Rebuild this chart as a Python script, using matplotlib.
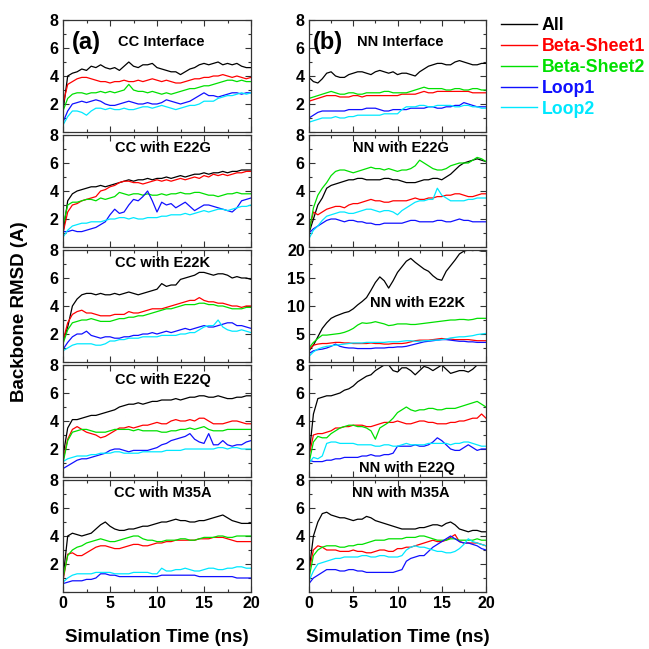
import numpy as np
import matplotlib
matplotlib.use("Agg")
import matplotlib.pyplot as plt
from matplotlib.lines import Line2D
from matplotlib.ticker import MultipleLocator

plt.rcParams['font.family'] = ['Liberation Sans', 'DejaVu Sans']
plt.rcParams['font.weight'] = 'bold'

time_ns = np.arange(41) * 0.5
series_names = ["All", "Beta-Sheet1", "Beta-Sheet2", "Loop1", "Loop2"]
series_colors = ["#000000", "#ff0000", "#00e000", "#1010ff", "#00e8ff"]

# ---- (a) CC panels ----
cc_interface = {
    "All": [1.5,4.0,4.2,4.3,4.5,4.4,4.7,4.6,4.8,4.6,4.5,4.6,4.4,4.7,5.0,4.7,4.6,4.8,4.8,4.9,4.6,4.5,4.4,4.3,4.3,4.1,4.3,4.5,4.6,4.8,4.9,4.8,4.9,5.0,4.8,4.9,4.8,4.9,4.7,4.6,4.6],
    "Beta-Sheet1": [2.0,3.4,3.6,3.8,3.9,3.9,3.8,3.7,3.6,3.6,3.5,3.6,3.6,3.7,3.6,3.6,3.7,3.6,3.7,3.8,3.7,3.6,3.7,3.6,3.5,3.5,3.6,3.7,3.8,3.8,3.9,3.9,4.0,4.0,4.1,4.0,3.9,4.0,3.9,3.8,3.9],
    "Beta-Sheet2": [1.5,2.4,2.7,2.8,2.8,2.7,2.8,2.8,2.9,2.8,2.9,2.8,2.9,3.0,3.4,3.0,2.9,2.9,2.8,2.9,2.8,2.7,2.8,2.7,2.8,2.9,3.0,3.1,3.1,3.2,3.3,3.3,3.4,3.5,3.6,3.7,3.7,3.6,3.7,3.6,3.6],
    "Loop1": [0.7,1.5,2.0,2.1,2.2,2.1,2.2,2.3,2.2,2.0,1.9,1.9,2.0,2.1,2.2,2.1,2.0,2.0,2.1,2.0,2.0,2.1,2.3,2.2,2.1,2.0,2.1,2.2,2.4,2.6,2.8,2.6,2.6,2.5,2.6,2.7,2.8,2.8,2.7,2.8,2.8],
    "Loop2": [0.5,1.1,1.5,1.5,1.4,1.2,1.5,1.7,1.7,1.6,1.7,1.6,1.6,1.7,1.6,1.6,1.7,1.8,1.8,1.7,1.8,1.9,1.8,1.7,1.6,1.7,1.8,1.9,1.9,2.0,2.2,2.2,2.2,2.4,2.5,2.6,2.6,2.7,2.8,2.7,2.8],
}
cc_e22g = {
    "All": [1.0,3.3,3.8,4.0,4.1,4.2,4.3,4.3,4.4,4.3,4.4,4.5,4.6,4.7,4.8,4.7,4.8,4.8,4.9,4.8,4.9,4.9,5.0,4.9,5.0,5.1,5.0,5.1,5.2,5.2,5.3,5.2,5.3,5.3,5.4,5.3,5.4,5.4,5.5,5.5,5.5],
    "Beta-Sheet1": [1.0,2.5,3.0,3.1,3.3,3.4,3.5,3.6,4.0,4.1,4.3,4.4,4.6,4.7,4.7,4.6,4.6,4.5,4.6,4.7,4.8,4.7,4.8,4.7,4.8,4.9,4.8,4.9,5.0,4.9,5.1,5.0,5.2,5.1,5.2,5.1,5.2,5.3,5.3,5.4,5.4],
    "Beta-Sheet2": [1.5,3.0,3.2,3.2,3.3,3.4,3.4,3.3,3.5,3.4,3.5,3.6,3.9,3.8,3.7,3.8,3.8,3.7,3.8,3.7,3.7,3.8,3.7,3.8,3.8,3.9,3.8,3.8,3.9,3.9,3.8,3.7,3.7,3.6,3.7,3.8,3.8,3.9,3.8,3.8,3.8],
    "Loop1": [1.1,1.1,1.2,1.1,1.1,1.2,1.3,1.4,1.6,1.8,2.3,2.7,2.4,2.5,3.0,3.4,3.3,3.6,4.0,3.3,2.5,3.2,3.0,3.1,2.8,3.0,3.2,2.9,2.6,2.8,3.0,3.0,2.9,2.8,2.7,2.6,2.5,2.8,3.3,3.4,3.5],
    "Loop2": [0.7,1.2,1.5,1.6,1.7,1.7,1.8,1.8,1.8,1.9,2.0,2.0,2.1,2.1,2.0,2.1,2.0,2.0,2.1,2.1,2.1,2.2,2.2,2.3,2.3,2.3,2.4,2.3,2.4,2.5,2.6,2.5,2.6,2.7,2.7,2.6,2.7,2.8,2.9,2.9,3.0],
}
cc_e22k = {
    "All": [1.5,2.5,4.0,4.5,4.8,4.9,4.9,4.8,4.9,4.8,4.8,4.9,4.8,4.9,5.0,4.9,4.8,4.9,5.0,5.1,5.2,5.6,5.4,5.5,5.5,5.9,6.0,6.1,6.2,6.4,6.4,6.3,6.2,6.3,6.3,6.2,6.0,6.1,6.0,6.0,5.9],
    "Beta-Sheet1": [1.5,2.8,3.4,3.6,3.7,3.5,3.5,3.4,3.3,3.3,3.3,3.4,3.4,3.4,3.6,3.5,3.5,3.6,3.7,3.8,3.8,3.8,3.9,4.0,4.1,4.2,4.3,4.4,4.4,4.6,4.4,4.3,4.3,4.2,4.2,4.1,4.0,4.0,3.9,4.0,4.0],
    "Beta-Sheet2": [1.3,2.3,2.8,2.9,3.0,3.0,3.1,3.0,2.9,2.9,2.9,3.0,3.1,3.1,3.2,3.2,3.3,3.3,3.4,3.5,3.6,3.7,3.8,3.8,3.9,4.0,4.1,4.1,4.1,4.2,4.2,4.1,4.1,4.0,4.0,3.9,3.8,3.8,3.8,3.9,3.9],
    "Loop1": [0.9,1.4,1.8,2.0,2.0,2.2,1.9,1.8,1.7,1.8,1.8,1.7,1.7,1.8,1.8,1.9,1.9,2.0,2.0,2.1,2.0,2.1,2.2,2.1,2.2,2.3,2.4,2.3,2.4,2.5,2.6,2.5,2.5,2.6,2.7,2.8,2.8,2.6,2.6,2.5,2.4],
    "Loop2": [0.8,1.0,1.2,1.3,1.3,1.3,1.3,1.2,1.2,1.3,1.5,1.5,1.6,1.6,1.7,1.7,1.7,1.8,1.8,1.8,1.8,1.9,1.9,1.9,1.9,2.0,2.0,2.1,2.1,2.3,2.5,2.6,2.6,3.0,2.5,2.3,2.2,2.2,2.3,2.2,2.1],
}
cc_e22q = {
    "All": [1.5,3.5,4.1,4.1,4.2,4.3,4.4,4.4,4.5,4.6,4.7,4.8,5.0,5.1,5.2,5.2,5.3,5.2,5.3,5.4,5.4,5.5,5.5,5.5,5.6,5.5,5.6,5.7,5.7,5.8,5.8,5.7,5.7,5.8,5.7,5.6,5.6,5.7,5.7,5.8,5.8],
    "Beta-Sheet1": [1.2,2.7,3.4,3.6,3.4,3.2,3.1,3.0,2.8,2.9,3.1,3.3,3.5,3.5,3.6,3.5,3.6,3.7,3.7,3.8,3.9,3.8,3.8,4.0,4.1,4.0,4.0,4.1,4.0,4.2,4.2,4.0,3.8,3.8,3.8,3.9,4.0,4.0,3.9,3.8,3.8],
    "Beta-Sheet2": [1.0,2.6,3.2,3.3,3.4,3.4,3.3,3.2,3.2,3.2,3.3,3.4,3.4,3.4,3.4,3.3,3.4,3.3,3.3,3.3,3.3,3.2,3.2,3.3,3.3,3.4,3.4,3.5,3.4,3.5,3.6,3.4,3.3,3.3,3.3,3.4,3.4,3.4,3.4,3.4,3.4],
    "Loop1": [0.6,0.8,1.0,1.2,1.3,1.3,1.4,1.5,1.6,1.7,1.9,2.0,2.0,1.9,1.8,1.9,1.9,1.9,1.9,2.0,2.1,2.3,2.4,2.6,2.7,2.8,2.9,3.1,2.7,2.5,2.4,3.1,2.3,2.3,2.6,2.3,2.2,2.3,2.3,2.5,2.6],
    "Loop2": [1.1,1.3,1.4,1.5,1.5,1.5,1.6,1.6,1.7,1.7,1.7,1.8,1.8,1.7,1.7,1.7,1.7,1.8,1.8,1.8,1.8,1.8,1.9,1.9,1.9,1.9,2.0,2.0,2.0,2.0,2.0,2.0,2.0,2.1,2.1,2.0,2.1,2.1,2.0,2.0,2.0],
}
cc_m35a = {
    "All": [1.0,4.0,4.2,4.1,4.0,4.1,4.2,4.5,4.8,5.0,4.7,4.5,4.4,4.4,4.5,4.5,4.6,4.7,4.7,4.8,4.9,5.0,5.0,5.1,5.2,5.1,5.1,5.0,5.0,5.1,5.1,5.2,5.3,5.4,5.5,5.3,5.1,5.0,4.9,4.9,4.9],
    "Beta-Sheet1": [0.8,2.7,2.8,2.6,2.6,2.8,3.0,3.2,3.3,3.3,3.2,3.1,3.1,3.2,3.3,3.4,3.4,3.3,3.3,3.4,3.5,3.5,3.6,3.6,3.7,3.7,3.7,3.7,3.7,3.8,3.8,3.8,3.9,3.9,3.9,3.8,3.7,3.6,3.6,3.6,3.6],
    "Beta-Sheet2": [1.0,2.6,3.0,3.2,3.3,3.5,3.6,3.7,3.8,3.7,3.6,3.6,3.7,3.8,3.9,4.0,4.0,3.8,3.7,3.7,3.6,3.6,3.7,3.7,3.7,3.8,3.8,3.7,3.7,3.8,3.9,3.9,3.9,4.0,4.0,3.9,3.9,4.0,4.0,4.0,4.0],
    "Loop1": [0.6,0.7,0.8,0.8,0.8,0.9,0.9,1.0,1.3,1.3,1.2,1.2,1.1,1.1,1.1,1.1,1.1,1.1,1.1,1.1,1.1,1.2,1.2,1.2,1.2,1.2,1.2,1.2,1.2,1.1,1.1,1.1,1.1,1.1,1.1,1.1,1.1,1.0,1.0,1.0,1.0],
    "Loop2": [0.7,1.0,1.2,1.3,1.3,1.3,1.3,1.4,1.4,1.4,1.4,1.3,1.3,1.3,1.3,1.4,1.4,1.4,1.4,1.3,1.3,1.7,1.5,1.5,1.6,1.6,1.7,1.6,1.5,1.5,1.6,1.7,1.7,1.6,1.6,1.7,1.7,1.8,1.8,1.7,1.7],
}
# ---- (b) NN panels ----
nn_interface = {
    "All": [3.9,3.6,3.5,3.8,4.2,4.3,4.0,3.9,3.9,4.1,4.2,4.3,4.3,4.2,4.1,4.3,4.4,4.3,4.2,4.3,4.1,4.2,4.2,4.1,4.0,4.3,4.5,4.7,4.8,4.9,4.9,4.8,4.8,5.0,5.1,5.0,4.9,4.8,4.8,4.9,4.9],
    "Beta-Sheet1": [2.2,2.3,2.4,2.5,2.6,2.6,2.6,2.5,2.5,2.5,2.6,2.6,2.5,2.6,2.6,2.6,2.6,2.6,2.6,2.6,2.6,2.7,2.7,2.7,2.7,2.8,2.9,2.8,2.8,2.9,2.9,2.9,2.9,2.9,2.9,2.9,2.9,2.8,2.8,2.8,2.8],
    "Beta-Sheet2": [2.4,2.5,2.6,2.7,2.8,2.9,2.8,2.7,2.7,2.8,2.8,2.7,2.7,2.8,2.8,2.8,2.8,2.9,2.9,2.8,2.8,2.8,2.8,2.9,3.0,3.1,3.2,3.1,3.1,3.1,3.1,3.0,3.0,3.1,3.1,3.0,3.0,3.1,3.1,3.0,3.0],
    "Loop1": [1.0,1.2,1.4,1.5,1.5,1.5,1.5,1.5,1.5,1.6,1.6,1.6,1.6,1.7,1.7,1.7,1.6,1.5,1.5,1.6,1.6,1.6,1.6,1.7,1.7,1.7,1.7,1.8,1.8,1.7,1.7,1.8,1.8,1.9,1.9,2.1,2.0,1.9,1.8,1.8,1.8],
    "Loop2": [0.7,0.8,0.9,1.0,1.0,1.0,1.1,1.0,1.0,1.1,1.1,1.2,1.2,1.2,1.2,1.2,1.2,1.3,1.3,1.3,1.3,1.6,1.8,1.8,1.8,1.9,1.9,1.8,1.8,1.9,1.9,1.9,1.9,1.8,1.8,1.9,1.9,1.8,1.8,1.7,1.7],
}
nn_e22g = {
    "All": [1.0,2.0,3.0,3.5,4.2,4.4,4.5,4.6,4.7,4.8,4.8,4.9,4.9,4.8,4.8,4.8,4.8,4.9,4.9,4.8,4.8,4.7,4.6,4.6,4.6,4.7,4.8,4.8,4.9,4.9,4.8,5.0,5.2,5.5,5.8,6.0,6.1,6.2,6.3,6.2,6.1],
    "Beta-Sheet1": [1.2,2.5,2.3,2.5,2.7,2.8,2.9,2.9,2.8,3.0,3.1,3.1,3.2,3.3,3.4,3.3,3.3,3.2,3.2,3.3,3.3,3.3,3.3,3.4,3.5,3.4,3.4,3.5,3.5,3.6,3.6,3.7,3.7,3.8,3.8,3.7,3.6,3.6,3.7,3.8,3.8],
    "Beta-Sheet2": [1.0,2.8,3.7,4.2,4.6,5.1,5.4,5.5,5.5,5.4,5.3,5.4,5.5,5.6,5.7,5.6,5.6,5.5,5.6,5.5,5.4,5.5,5.5,5.6,5.8,6.2,6.0,5.8,5.6,5.5,5.5,5.6,5.8,5.9,6.0,6.0,6.0,6.2,6.4,6.3,6.1],
    "Loop1": [1.0,1.3,1.5,1.7,1.9,2.0,2.0,1.9,1.8,1.9,1.9,1.8,1.8,1.7,1.7,1.6,1.6,1.7,1.7,1.7,1.7,1.7,1.8,1.9,1.9,1.8,1.8,1.8,1.8,1.9,1.9,1.8,1.8,1.9,2.0,1.9,1.9,1.8,1.8,1.8,1.8],
    "Loop2": [0.6,1.2,1.5,1.9,2.2,2.3,2.4,2.5,2.5,2.4,2.4,2.5,2.6,2.7,2.7,2.6,2.5,2.6,2.6,2.5,2.3,2.6,2.8,3.0,3.2,3.3,3.3,3.4,3.4,4.2,3.7,3.5,3.3,3.3,3.3,3.3,3.4,3.4,3.5,3.5,3.5],
}
nn_e22k = {
    "All": [2.0,3.0,4.5,6.0,7.0,7.8,8.2,8.5,8.8,9.0,9.5,10.2,10.8,11.5,12.8,14.2,15.2,14.5,13.2,14.5,16.0,17.0,18.0,18.5,17.8,17.2,16.6,16.2,15.4,14.8,14.6,16.2,17.2,18.2,19.3,19.8,20.0,19.9,20.0,19.8,19.8],
    "Beta-Sheet1": [2.2,3.0,3.2,3.3,3.3,3.4,3.5,3.5,3.4,3.4,3.3,3.3,3.3,3.3,3.4,3.3,3.3,3.2,3.2,3.3,3.3,3.3,3.4,3.6,3.8,3.9,3.9,3.9,4.0,4.1,4.2,4.1,4.1,4.0,4.0,4.0,4.0,3.9,3.8,3.8,3.8],
    "Beta-Sheet2": [2.5,3.5,4.2,4.8,4.8,4.9,5.0,5.1,5.3,5.6,6.0,6.6,7.0,6.9,7.0,7.2,7.0,6.8,6.5,6.6,6.8,6.8,6.8,6.7,6.7,6.8,6.9,7.0,7.1,7.2,7.3,7.4,7.5,7.5,7.6,7.6,7.5,7.6,7.8,7.8,7.8],
    "Loop1": [1.5,2.0,2.2,2.3,2.5,2.8,3.2,2.8,2.6,2.5,2.5,2.4,2.4,2.4,2.4,2.5,2.5,2.5,2.6,2.6,2.7,2.7,2.8,3.0,3.2,3.4,3.6,3.7,3.8,3.9,4.0,4.0,3.9,3.8,3.7,3.7,3.6,3.6,3.5,3.5,3.5],
    "Loop2": [1.0,1.8,2.3,2.6,2.8,2.9,3.0,3.1,3.2,3.3,3.4,3.4,3.4,3.5,3.5,3.5,3.5,3.5,3.6,3.6,3.6,3.7,3.8,3.8,3.7,3.7,3.8,3.8,3.9,3.9,4.0,4.1,4.3,4.4,4.5,4.5,4.6,4.7,4.9,5.0,5.1],
}
nn_e22q = {
    "All": [1.5,4.5,5.6,5.7,5.8,5.8,5.9,6.0,6.2,6.3,6.5,6.8,7.0,7.2,7.3,7.6,7.8,8.0,8.0,7.6,7.5,7.8,7.8,7.6,7.3,7.6,7.9,7.8,7.6,7.8,8.0,7.7,7.4,7.5,7.6,7.6,7.5,7.7,8.0,8.1,8.3],
    "Beta-Sheet1": [1.5,3.0,3.1,3.1,3.2,3.3,3.5,3.5,3.6,3.6,3.7,3.7,3.7,3.6,3.6,3.7,3.8,3.9,3.9,3.9,4.0,3.9,3.8,3.8,3.9,4.0,4.0,3.9,3.9,3.8,3.8,3.8,3.9,3.9,4.0,4.0,4.1,4.2,4.2,4.5,4.2],
    "Beta-Sheet2": [1.0,2.5,2.9,2.8,2.8,3.1,3.3,3.5,3.6,3.7,3.7,3.6,3.6,3.5,3.3,2.7,3.5,3.7,3.9,4.2,4.6,4.8,5.0,4.8,4.7,4.8,4.8,4.9,4.9,4.8,4.8,4.9,4.9,4.9,5.0,5.1,5.2,5.3,5.4,5.2,5.0],
    "Loop1": [1.2,1.1,1.1,1.1,1.2,1.2,1.3,1.3,1.4,1.4,1.4,1.4,1.5,1.5,1.6,1.5,1.5,1.6,1.6,1.7,2.2,2.2,2.2,2.2,2.3,2.2,2.2,2.3,2.5,2.8,2.6,2.3,2.0,1.9,1.9,2.1,2.3,2.1,1.9,2.0,2.0],
    "Loop2": [1.0,1.4,1.3,1.5,2.4,2.5,2.5,2.4,2.4,2.4,2.4,2.3,2.3,2.3,2.3,2.2,2.2,2.3,2.3,2.2,2.2,2.3,2.4,2.3,2.3,2.3,2.3,2.4,2.4,2.4,2.4,2.4,2.3,2.4,2.4,2.5,2.5,2.4,2.3,2.2,2.2],
}
nn_m35a = {
    "All": [1.5,4.0,5.0,5.6,5.7,5.5,5.4,5.3,5.3,5.2,5.1,5.2,5.2,5.4,5.3,5.1,5.0,4.9,4.8,4.7,4.6,4.5,4.5,4.5,4.5,4.6,4.6,4.7,4.8,4.8,4.7,4.9,5.0,4.8,4.5,4.4,4.3,4.4,4.4,4.3,4.3],
    "Beta-Sheet1": [1.5,3.0,3.3,3.2,3.0,3.0,3.0,2.9,2.9,2.9,3.0,2.9,2.9,2.8,2.8,2.9,3.0,3.0,2.9,2.9,3.1,3.1,3.2,3.2,3.3,3.4,3.5,3.6,3.7,3.6,3.6,3.7,3.9,4.1,3.6,3.5,3.5,3.5,3.5,3.4,3.3],
    "Beta-Sheet2": [1.0,2.6,3.0,3.2,3.3,3.3,3.3,3.2,3.2,3.3,3.3,3.4,3.4,3.5,3.6,3.7,3.7,3.7,3.8,3.8,3.8,3.8,3.9,3.9,3.9,4.0,4.0,3.9,3.8,3.7,3.7,3.7,3.8,3.8,3.7,3.7,3.7,3.7,3.8,3.7,3.7],
    "Loop1": [0.6,1.0,1.2,1.4,1.6,1.6,1.6,1.5,1.5,1.6,1.6,1.5,1.5,1.4,1.4,1.4,1.4,1.4,1.4,1.4,1.5,1.6,2.2,2.4,2.5,2.6,2.6,2.9,3.2,3.4,3.6,3.8,4.0,3.8,3.6,3.5,3.5,3.4,3.3,3.1,3.0],
    "Loop2": [0.8,1.5,2.0,2.1,2.2,2.3,2.4,2.4,2.5,2.5,2.5,2.5,2.6,2.6,2.5,2.5,2.6,2.6,2.5,2.5,2.5,2.6,3.0,3.2,3.3,3.2,3.2,3.1,3.0,2.9,2.9,2.8,2.8,2.9,3.1,3.4,3.8,3.6,3.5,3.4,3.3],
}

left_panels = [cc_interface, cc_e22g, cc_e22k, cc_e22q, cc_m35a]
right_panels = [nn_interface, nn_e22g, nn_e22k, nn_e22q, nn_m35a]
left_titles = ["CC Interface", "CC with E22G", "CC with E22K", "CC with E22Q", "CC with M35A"]
right_titles = ["NN Interface", "NN with E22G", "NN with E22K", "NN with E22Q", "NN with M35A"]
right_ymax = [8, 8, 20, 8, 8]

W = H = 649
fig = plt.figure(figsize=(W/100, H/100), dpi=100)

def frac_rect(x0, top, w, h):
    return [x0/W, 1 - (top + h)/H, w/W, h/H]

def style_axes(ax, ymax, bottom):
    ax.set_xlim(0, 20)
    ax.set_ylim(0, ymax)
    ax.xaxis.set_major_locator(MultipleLocator(5))
    ax.xaxis.set_minor_locator(MultipleLocator(2.5))
    if ymax == 20:
        ax.yaxis.set_minor_locator(MultipleLocator(2.5))
        ax.set_yticks([5, 10, 15, 20])
        ax.set_yticklabels(["5", "10", "15", "20"])
    else:
        ax.yaxis.set_minor_locator(MultipleLocator(1))
        ax.set_yticks([0, 2, 4, 6, 8])
        ax.set_yticklabels(["", "2", "4", "6", "8"])
    ax.tick_params(which='both', direction='in', top=True, right=True, width=0.8, color='#333333')
    ax.tick_params(which='major', length=4, labelsize=11.5, pad=3)
    ax.tick_params(which='minor', length=2)
    for lab in ax.get_yticklabels() + ax.get_xticklabels():
        lab.set_fontweight('bold')
    if not bottom:
        ax.tick_params(labelbottom=False)
    for s in ax.spines.values():
        s.set_linewidth(0.9)
        s.set_color('#333333')

tops = [20 + 115*i for i in range(5)]
axes_left, axes_right = [], []
for i in range(5):
    axl = fig.add_axes(frac_rect(63, tops[i], 188, 112))
    axr = fig.add_axes(frac_rect(309, tops[i], 177, 112))
    for ax, data, ymax in ((axl, left_panels[i], 8), (axr, right_panels[i], right_ymax[i])):
        for name, col in zip(series_names, series_colors):
            ax.plot(time_ns, data[name], color=col, lw=0.9)
        style_axes(ax, ymax, i == 4)
    axes_left.append(axl)
    axes_right.append(axr)

tkw = dict(fontsize=10.5, fontweight='bold')
axes_left[0].text(0.045, 0.80, "(a)", transform=axes_left[0].transAxes, fontsize=17, fontweight='bold', va='center')
axes_left[0].text(0.29, 0.80, "CC Interface", transform=axes_left[0].transAxes, va='center', **tkw)
axes_right[0].text(0.02, 0.80, "(b)", transform=axes_right[0].transAxes, fontsize=17, fontweight='bold', va='center')
axes_right[0].text(0.27, 0.80, "NN Interface", transform=axes_right[0].transAxes, va='center', **tkw)
left_pos = [None, (0.53, 0.884), (0.53, 0.884), (0.53, 0.87), (0.53, 0.884)]
right_pos = [None, (0.52, 0.884), (0.616, 0.527), (0.554, 0.08), (0.52, 0.884)]
for i in range(1, 5):
    axes_left[i].text(*left_pos[i], left_titles[i], transform=axes_left[i].transAxes, ha='center', va='center', **tkw)
    axes_right[i].text(*right_pos[i], right_titles[i], transform=axes_right[i].transAxes, ha='center', va='center', **tkw)

fig.text(20/W, 1 - 312/H, "Backbone RMSD (A)", rotation=90, ha='center', va='center', fontsize=13.5, fontweight='bold')
fig.text(157/W, 1 - 637/H, "Simulation Time (ns)", ha='center', va='center', fontsize=13.5, fontweight='bold')
fig.text(398/W, 1 - 637/H, "Simulation Time (ns)", ha='center', va='center', fontsize=13.5, fontweight='bold')

handles = [Line2D([0], [0], color=c, lw=1.0) for c in series_colors]
leg = fig.legend(handles, series_names, loc='upper left', bbox_to_anchor=(485/W, 1 - 1/H),
                 frameon=False, handlelength=2.0, handletextpad=0.3, labelspacing=0.22,
                 prop={'size': 12.8, 'weight': 'bold'})
for txt, c in zip(leg.get_texts(), series_colors):
    txt.set_color(c)

fig.savefig("out.png", dpi=100)
